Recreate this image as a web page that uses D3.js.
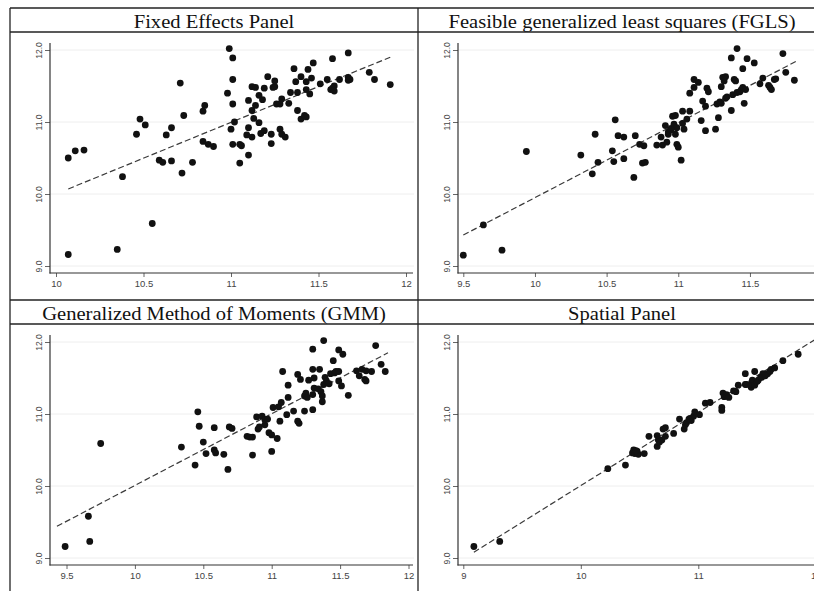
<!DOCTYPE html>
<html lang="en">
<head>
<meta charset="UTF-8">
<title>Fitted vs actual</title>
<script src="https://cdn.jsdelivr.net/npm/d3@7"></script>
<style>
  body { margin: 0; background: #fff; }
  .tick line { stroke: #666; }
  .tick text { fill: #444; font-family: "Liberation Sans", Arial, sans-serif; }
</style>
</head>
<body>
<script>

var width = 814,
    height = 591

// panel titles
var titles = ["Fixed Effects Panel", "Feasible generalized least squares (FGLS)",
              "Generalized Method of Moments (GMM)", "Spatial Panel"]

// tick labels
var yTicks = [9, 10, 11, 12]
var feXTicks = [10, 10.5, 11, 11.5, 12]
var fglsXTicks = [9.5, 10, 10.5, 11, 11.5, 12]
var gmmXTicks = [9.5, 10, 10.5, 11, 11.5, 12]
var spXTicks = [9, 10, 11, 12]

// Fixed Effects
var feX = [10.07,10.11,10.16,10.07,10.35,10.38,10.55,10.46,10.48,10.51,10.59,10.61,10.63,10.66,10.66,10.72,10.73,10.71,10.78,10.84,
           10.85,10.84,10.87,10.90,10.99,11.01,10.98,11.01,11.01,11.00,11.02,11.01,11.05,11.06,11.05,11.10,11.10,11.10,11.09,11.12,
           11.12,11.12,11.14,11.14,11.13,11.16,11.16,11.18,11.17,11.19,11.19,11.21,11.23,11.23,11.24,11.25,11.25,11.26,11.28,11.28,
           11.29,11.29,11.31,11.33,11.34,11.36,11.37,11.38,11.38,11.40,11.40,11.42,11.43,11.43,11.43,11.44,11.45,11.46,11.47,11.51,
           11.55,11.58,11.57,11.58,11.59,11.59,11.62,11.67,11.67,11.67,11.68,11.79,11.82,11.91]
var feY = [10.50,10.60,10.61,9.16,9.23,10.24,9.59,10.83,11.04,10.96,10.47,10.44,10.82,10.46,10.92,10.29,11.09,11.54,10.44,11.15,
           11.23,10.73,10.69,10.66,12.02,11.89,11.40,11.59,11.25,10.90,11.00,10.69,10.69,10.67,10.43,10.54,11.30,10.92,10.82,10.79,
           11.16,11.49,11.48,11.23,11.05,10.99,11.37,11.31,10.84,10.88,11.47,11.63,10.83,10.70,11.48,11.49,11.57,11.25,11.25,10.90,
           10.83,11.32,10.79,11.26,11.41,11.74,11.56,11.41,11.16,11.63,11.04,11.09,11.07,11.56,11.45,11.73,11.39,11.61,11.82,11.53,
           11.59,11.88,11.45,11.47,11.50,11.43,11.59,11.96,11.62,11.58,11.59,11.69,11.59,11.52]
var feFit = [[10.07, 10.07], [11.91, 11.90]]

// FGLS
var fglsX = [9.50,9.64,9.77,9.94,10.32,10.40,10.42,10.44,10.54,10.56,10.55,10.58,10.62,10.62,10.69,10.70,10.73,10.76,10.75,10.77,
             10.85,10.89,10.88,10.91,10.92,10.93,10.95,10.96,10.97,10.98,10.98,10.99,10.99,11.00,11.02,11.03,11.03,11.04,11.06,11.08,
             11.08,11.11,11.11,11.14,11.16,11.17,11.19,11.19,11.20,11.21,11.26,11.27,11.28,11.29,11.30,11.30,11.31,11.32,11.33,11.33,
             11.34,11.37,11.37,11.38,11.39,11.40,11.41,11.41,11.43,11.44,11.45,11.45,11.46,11.47,11.48,11.53,11.57,11.59,11.63,11.64,
             11.65,11.67,11.68,11.73,11.75,11.81,10.93,10.95]
var fglsY = [9.15,9.57,9.22,10.59,10.54,10.28,10.83,10.44,10.60,11.03,10.45,10.81,10.79,10.49,10.23,10.81,10.69,10.67,10.43,10.44,
             10.68,10.68,10.79,10.95,10.72,10.83,10.91,11.08,10.97,11.09,10.83,10.92,10.69,10.65,10.47,10.98,11.15,10.90,11.04,11.40,
             11.15,11.59,11.48,11.55,11.02,11.29,11.22,10.88,11.47,11.42,10.90,11.25,11.06,11.28,11.26,11.49,11.62,11.57,11.63,11.33,
             11.35,11.89,11.16,11.38,11.59,11.57,11.41,12.02,11.42,11.45,11.74,11.48,11.26,11.45,11.88,11.82,11.53,11.61,11.51,11.48,
             11.45,11.59,11.60,11.95,11.69,11.58,10.86,10.89]
var fglsFit = [[9.50, 9.43], [11.82, 11.84]]

// GMM
var gmmX = [9.49,9.66,9.67,9.75,10.34,10.44,10.46,10.47,10.50,10.52,10.58,10.58,10.59,10.65,10.68,10.69,10.71,10.82,10.84,10.86,
            10.86,10.89,10.90,10.91,10.93,10.95,10.95,10.97,10.98,11.00,11.00,11.01,11.04,11.05,11.06,11.07,11.08,11.11,11.12,11.12,
            11.16,11.19,11.19,11.20,11.21,11.24,11.24,11.25,11.26,11.27,11.30,11.30,11.30,11.31,11.30,11.31,11.34,11.35,11.36,11.37,
            11.37,11.38,11.38,11.39,11.40,11.42,11.43,11.45,11.46,11.47,11.49,11.49,11.49,11.51,11.52,11.56,11.62,11.64,11.66,11.68,
            11.69,11.69,11.73,11.76,11.80,11.83]
var gmmY = [9.16,9.58,9.23,10.59,10.54,10.29,11.03,10.83,10.61,10.45,10.81,10.50,10.46,10.44,10.23,10.82,10.80,10.69,10.68,10.68,
            10.43,10.96,10.79,10.82,10.97,10.85,10.92,10.93,10.74,10.71,10.48,11.09,10.66,11.10,10.90,11.16,11.59,10.99,11.23,11.40,
            11.04,11.55,10.90,10.87,11.48,11.04,11.25,11.29,11.23,11.47,11.06,11.62,11.90,11.50,11.27,11.36,11.35,11.62,11.31,11.25,
            11.17,12.02,11.41,11.51,11.46,11.42,11.56,11.74,11.57,11.59,11.59,11.46,11.89,11.39,11.83,11.26,11.60,11.53,11.62,11.48,
            11.46,11.60,11.59,11.95,11.69,11.59]
var gmmFit = [[9.43, 9.44], [11.85, 11.85]]

// Spatial
var spX = [9.09,9.31,10.23,10.38,10.44,10.45,10.46,10.48,10.49,10.54,10.58,10.65,10.65,10.66,10.67,10.70,10.72,10.72,10.79,10.84,
           10.88,10.89,10.90,10.93,10.94,10.96,10.97,11.01,11.06,11.10,11.20,11.20,11.21,11.22,11.24,11.26,11.30,11.32,11.34,11.40,
           11.40,11.45,11.45,11.46,11.48,11.48,11.50,11.51,11.53,11.55,11.59,11.61,11.62,11.65,11.72,11.85,11.41,11.54,11.57,10.92,
           10.69,10.47]
var spY = [9.16,9.23,10.24,10.29,10.46,10.50,10.45,10.48,10.44,10.45,10.69,10.70,10.55,10.64,10.61,10.79,10.81,10.69,10.73,10.93,
           10.79,10.85,10.88,10.94,10.91,10.97,11.03,10.99,11.15,11.16,11.09,11.05,11.29,11.24,11.27,11.23,11.32,11.31,11.40,11.41,
           11.56,11.37,11.42,11.47,11.40,11.59,11.45,11.47,11.51,11.56,11.56,11.59,11.62,11.64,11.74,11.83,11.41,11.51,11.53,10.93,
           10.64,10.49]
var spFit = [[9.09, 9.08], [11.99, 12.03]]

var panels = [
  { title: titles[0], xs: feX,   ys: feY,   fit: feFit,   ticks: feXTicks,   dom: [10, 12], rng: [46, 396],     ox: 10,  oy: 8 },
  { title: titles[1], xs: fglsX, ys: fglsY, fit: fglsFit, ticks: fglsXTicks, dom: [9.5, 12], rng: [45.3, 403.6], ox: 418, oy: 8 },
  { title: titles[2], xs: gmmX,  ys: gmmY,  fit: gmmFit,  ticks: gmmXTicks,  dom: [9.5, 12], rng: [56.5, 398.5], ox: 10,  oy: 300 },
  { title: titles[3], xs: spX,   ys: spY,   fit: spFit,   ticks: spXTicks,   dom: [9, 12],  rng: [45.3, 397.8], ox: 418, oy: 300 }
]

var svg = d3.select("body").append("svg")
    .attr("width", width)
    .attr("height", height)

var frame = "#222"

panels.forEach(function(p) {
  var g = svg.append("g").attr("transform", "translate(" + p.ox + "," + p.oy + ")")

  var x = d3.scaleLinear().domain(p.dom).range(p.rng)
  var y = d3.scaleLinear().domain([9, 12]).range([258, 42])

  // title band
  g.append("text")
      .attr("transform", "translate(204,19.5) scale(1.1,1)")
      .attr("text-anchor", "middle")
      .style("font-family", "'Liberation Serif', 'Times New Roman', serif")
      .style("font-size", "18.7px")
      .style("fill", "#111")
      .text(p.title)
  g.append("line").attr("x1", 0).attr("x2", 408).attr("y1", 24).attr("y2", 24)
      .style("stroke", frame).style("stroke-width", 1.3)

  // gridlines
  g.selectAll(".grid").data(yTicks).enter().append("line")
      .attr("x1", 40).attr("x2", 404)
      .attr("y1", function(d){ return y(d) }).attr("y2", function(d){ return y(d) })
      .style("stroke", "#eeeeee").style("stroke-width", 1)

  // axes
  var xa = g.append("g").attr("transform", "translate(0,265)")
      .call(d3.axisBottom(x).tickValues(p.ticks).tickSize(4).tickPadding(3).tickFormat(d3.format("")))
  xa.select(".domain").remove()
  xa.selectAll("text").style("font-size", "9.5px")

  var ya = g.append("g").attr("transform", "translate(40,0)")
      .call(d3.axisLeft(y).tickValues(yTicks).tickSize(5).tickFormat(d3.format(".1f")))
  ya.select(".domain").remove()
  ya.selectAll("text")
      .attr("x", 0).attr("dy", 0)
      .attr("transform", "translate(-8,0) rotate(-90)")
      .attr("text-anchor", "middle")
      .style("font-size", "8.5px")

  g.append("line").attr("x1", 40).attr("x2", 40).attr("y1", 35).attr("y2", 265.5)
      .style("stroke", "#333").style("stroke-width", 1.2)
  g.append("line").attr("x1", 39.5).attr("x2", 403).attr("y1", 265).attr("y2", 265)
      .style("stroke", "#333").style("stroke-width", 1.2)

  // fit line
  g.append("path")
      .datum(p.fit)
      .attr("d", d3.line().x(function(d){ return x(d[0]) }).y(function(d){ return y(d[1]) }))
      .style("fill", "none").style("stroke", "#3a3a3a")
      .style("stroke-width", 1.2).style("stroke-dasharray", "6,3")

  // points
  g.selectAll("circle").data(p.xs).enter().append("circle")
      .attr("cx", function(d){ return x(d) })
      .attr("cy", function(d, i){ return y(p.ys[i]) })
      .attr("r", 3.4)
      .style("fill", "#111")
})

// panel frames
svg.append("line").attr("x1", 10).attr("x2", width).attr("y1", 8).attr("y2", 8)
    .style("stroke", frame).style("stroke-width", 1.3)
svg.append("line").attr("x1", 10).attr("x2", width).attr("y1", 300).attr("y2", 300)
    .style("stroke", frame).style("stroke-width", 1.3)
svg.append("line").attr("x1", 10).attr("x2", 10).attr("y1", 8).attr("y2", height)
    .style("stroke", frame).style("stroke-width", 1.3)
svg.append("line").attr("x1", 418).attr("x2", 418).attr("y1", 8).attr("y2", height)
    .style("stroke", frame).style("stroke-width", 1.3)

</script>
</body>
</html>
